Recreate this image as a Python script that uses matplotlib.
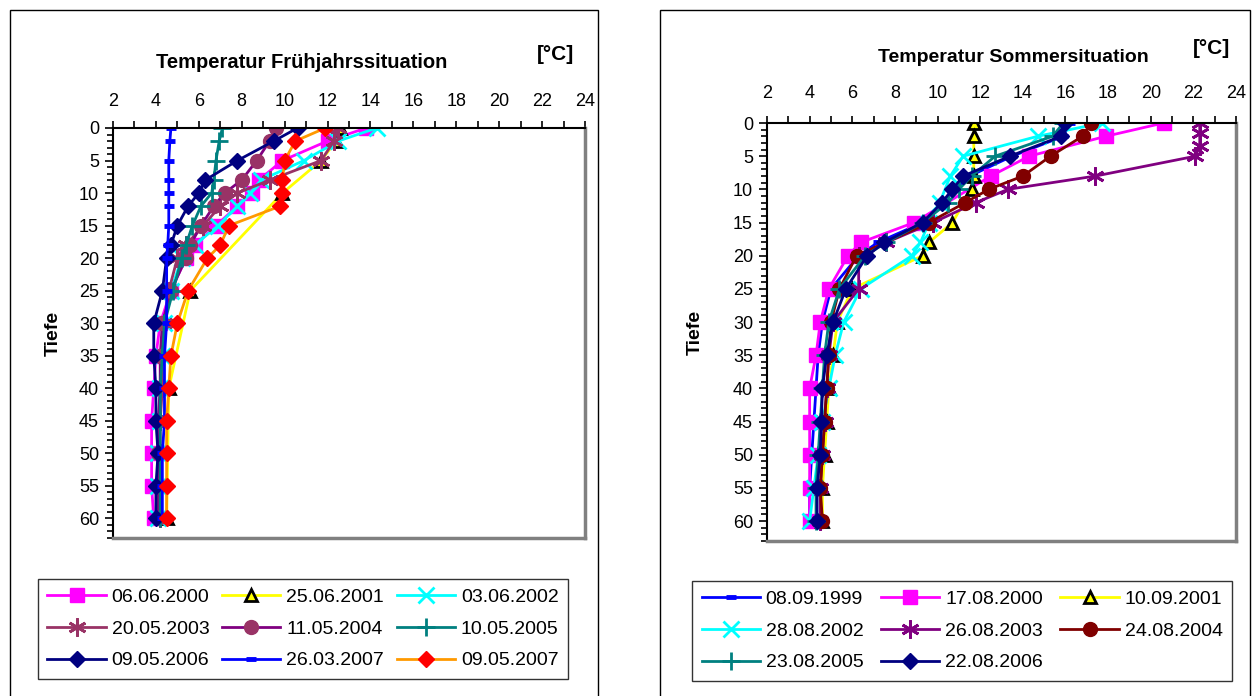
import matplotlib
matplotlib.use("Agg")
import matplotlib.pyplot as plt
import matplotlib.patches as patches
from matplotlib.ticker import MultipleLocator

plt.rcParams['font.family'] = ['Liberation Sans', 'DejaVu Sans']

# standard measuring depths [m]
depths = [0, 2, 5, 8, 10, 12, 15, 18, 20, 25, 30, 35, 40, 45, 50, 55, 60]

# ---- Frühjahr (spring) profiles, temperature in °C ----
sp_06062000 = [13.8, 12.0, 9.9, 8.8, 8.5, 7.8, 6.8, 5.8, 5.4, 4.7, 4.2, 4.0, 3.9, 3.8, 3.8, 3.8, 3.9]
sp_25062001_depth = [0, 2, 5, 10, 25, 40, 60]
sp_25062001 = [12.6, 12.4, 11.7, 9.9, 5.6, 4.6, 4.5]
sp_03062002 = [14.3, 12.5, 10.9, 8.9, 8.4, 7.8, 6.9, 5.8, 5.2, 4.7, 4.4, 4.3, 4.2, 4.2, 4.1, 4.1, 4.1]
sp_20052003 = [12.5, 12.3, 11.7, 9.3, 7.8, 7.0, 6.2, 5.4, 5.0, 4.6, 4.4, 4.3, 4.3, 4.2, 4.2, 4.2, 4.2]
sp_11052004 = [9.6, 9.3, 8.7, 8.0, 7.2, 6.7, 6.1, 5.6, 5.4, 4.7, 4.3, 4.2, 4.2, 4.1, 4.1, 4.1, 4.1]
sp_10052005 = [7.1, 6.95, 6.8, 6.7, 6.6, 6.1, 5.7, 5.4, 5.2, 4.8, 4.4, 4.3, 4.2, 4.2, 4.2, 4.2, 4.2]
sp_09052006 = [10.6, 9.5, 7.8, 6.3, 6.0, 5.5, 5.0, 4.7, 4.5, 4.3, 3.9, 3.9, 4.0, 4.0, 4.1, 4.0, 4.0]
sp_26032007 = [4.7, 4.65, 4.6, 4.6, 4.6, 4.6, 4.6, 4.55, 4.5, 4.5, 4.5, 4.4, 4.4, 4.4, 4.3, 4.3, 4.3]
sp_09052007 = [11.9, 10.5, 10.0, 9.9, 9.9, 9.8, 7.4, 7.0, 6.4, 5.5, 5.0, 4.7, 4.6, 4.5, 4.5, 4.5, 4.5]

# ---- Sommer (summer) profiles ----
su_08091999 = [16.2, 15.9, 13.5, 11.5, 10.8, 10.3, 9.3, 7.2, 6.3, 5.0, 4.6, 4.4, 4.3, 4.2, 4.1, 4.0, 4.0]
su_17082000_depth = [0, 2, 5, 8, 15, 18, 20, 25, 30, 35, 40, 45, 50, 55, 60]
su_17082000 = [20.6, 17.9, 14.3, 12.5, 8.9, 6.4, 5.8, 4.9, 4.5, 4.3, 4.0, 4.0, 4.0, 4.0, 4.0]
su_10092001_depth = [0, 2, 5, 8, 10, 15, 18, 20, 25, 30, 35, 40, 45, 50, 55, 60]
su_10092001 = [11.7, 11.7, 11.7, 11.7, 11.6, 10.7, 9.6, 9.3, 6.0, 5.3, 5.1, 4.9, 4.8, 4.7, 4.6, 4.6]
su_28082002_depth = [0, 2, 5, 8, 12, 15, 18, 20, 25, 30, 35, 40, 45, 50, 55, 60]
su_28082002 = [17.7, 14.7, 11.2, 10.6, 10.1, 9.6, 9.2, 8.8, 6.4, 5.6, 5.2, 4.9, 4.6, 4.4, 4.2, 4.0]
su_26082003_depth = [0, 1.5, 3.5, 5, 8, 10, 12, 15, 18, 20, 25, 30, 35, 40, 45, 50, 55, 60]
su_26082003 = [22.3, 22.3, 22.3, 22.1, 17.4, 13.3, 11.8, 9.8, 7.6, 6.3, 6.3, 5.1, 4.9, 4.8, 4.7, 4.6, 4.5, 4.5]
su_24082004_depth = [0, 2, 5, 8, 10, 12, 15, 20, 25, 30, 35, 40, 45, 50, 55, 60]
su_24082004 = [17.2, 16.8, 15.3, 14.0, 12.4, 11.3, 9.6, 6.2, 5.4, 5.0, 4.9, 4.8, 4.7, 4.6, 4.5, 4.6]
su_23082005 = [15.9, 15.4, 12.7, 11.6, 11.0, 10.5, 9.3, 7.6, 6.6, 5.4, 4.9, 4.7, 4.6, 4.5, 4.4, 4.3, 4.3]
su_22082006 = [16.0, 15.8, 13.4, 11.2, 10.7, 10.2, 9.3, 7.5, 6.7, 5.7, 5.1, 4.8, 4.6, 4.55, 4.5, 4.35, 4.35]

# marker / line styles (Excel default palette)
st_square = dict(color='#FF00FF', marker='s', ms=10)
st_tri = dict(color='#FFFF00', marker='^', ms=9, mfc='#FFFF00', mec='black', mew=2)
st_x = dict(color='#00FFFF', marker='x', ms=11, mew=2)
st_star_rose = dict(color='#993366', marker=(6, 2, 0), ms=13, mew=2)
st_star_purple = dict(color='#800080', marker=(6, 2, 0), ms=13, mew=2)
st_circle_rose = dict(color='#800080', marker='o', ms=10, mfc='#993366', mec='#993366')
st_circle_maroon = dict(color='#800000', marker='o', ms=10)
st_plus = dict(color='#008080', marker='+', ms=13, mew=2)
st_diamond = dict(color='#000080', marker='D', ms=8.5)
st_dash = dict(color='#0000FF', marker='_', ms=7, mew=3.5)
st_diamond_red = dict(color='#FF9900', marker='D', ms=8.5, mfc='#FF0000', mec='#FF0000')

spring = [
    ('06.06.2000', depths, sp_06062000, st_square),
    ('25.06.2001', sp_25062001_depth, sp_25062001, st_tri),
    ('03.06.2002', depths, sp_03062002, st_x),
    ('20.05.2003', depths, sp_20052003, st_star_rose),
    ('11.05.2004', depths, sp_11052004, st_circle_rose),
    ('10.05.2005', depths, sp_10052005, st_plus),
    ('09.05.2006', depths, sp_09052006, st_diamond),
    ('26.03.2007', depths, sp_26032007, st_dash),
    ('09.05.2007', depths, sp_09052007, st_diamond_red),
]

summer = [
    ('08.09.1999', depths, su_08091999, st_dash),
    ('17.08.2000', su_17082000_depth, su_17082000, st_square),
    ('10.09.2001', su_10092001_depth, su_10092001, st_tri),
    ('28.08.2002', su_28082002_depth, su_28082002, st_x),
    ('26.08.2003', su_26082003_depth, su_26082003, st_star_purple),
    ('24.08.2004', su_24082004_depth, su_24082004, st_circle_maroon),
    ('23.08.2005', depths, su_23082005, st_plus),
    ('22.08.2006', depths, su_22082006, st_diamond),
]

W, H = 1256, 696
fig = plt.figure(figsize=(W / 100, H / 100), dpi=100)


def px_axes(x0, y0, x1, y1):
    return fig.add_axes([x0 / W, 1 - y1 / H, (x1 - x0) / W, (y1 - y0) / H])


def draw_panel(ax, series, tick_pad, legend_center, colspace):
    handles = []
    for label, d, temps, st in series:
        h, = ax.plot(temps, d, lw=2, label=label, **st)
        handles.append(h)
    ax.set_xlim(2, 24)
    ax.set_ylim(63, 0)
    ax.xaxis.tick_top()
    ax.xaxis.set_major_locator(MultipleLocator(2))
    ax.xaxis.set_minor_locator(MultipleLocator(1))
    ax.yaxis.set_major_locator(MultipleLocator(5))
    ax.yaxis.set_minor_locator(MultipleLocator(1))
    ax.tick_params(axis='x', which='both', direction='out', labelsize=13, pad=tick_pad, width=1.2)
    ax.tick_params(axis='x', which='both', length=5)
    ax.tick_params(axis='y', which='both', direction='out', labelsize=13, pad=4, width=1.2)
    ax.tick_params(axis='y', which='major', length=6)
    ax.tick_params(axis='y', which='minor', length=4)
    for s in ('top', 'left'):
        ax.spines[s].set_color('black')
        ax.spines[s].set_linewidth(1.5)
    for s in ('bottom', 'right'):
        ax.spines[s].set_color('#808080')
        ax.spines[s].set_linewidth(2.5)
    ax.set_ylabel('Tiefe', fontsize=14, fontweight='bold')

    # legend filled row by row like Excel
    n = len(handles)
    order = [i for c in range(3) for i in range(c, n, 3)]
    leg = fig.legend([handles[i] for i in order], [series[i][0] for i in order],
                     ncol=3, loc='center',
                     bbox_to_anchor=(legend_center[0] / W, 1 - legend_center[1] / H),
                     fontsize=14, frameon=True, fancybox=False, edgecolor='black',
                     handlelength=3.0, handletextpad=0.3, columnspacing=colspace,
                     labelspacing=0.72, borderpad=0.5)
    leg.get_frame().set_linewidth(1.0)
    return ax


# panel frames
fig.patches.append(patches.Rectangle((10 / W, -0.1), 588 / W, 1.1 - 10 / H, transform=fig.transFigure,
                                     fill=False, edgecolor='black', lw=1.0))
fig.patches.append(patches.Rectangle((660 / W, -0.1), 590 / W, 1.1 - 10 / H, transform=fig.transFigure,
                                     fill=False, edgecolor='black', lw=1.0))

ax1 = px_axes(113, 128, 585, 538)
draw_panel(ax1, spring, 8, (303, 629), 0.65)
ax1.yaxis.set_label_coords(-0.108, 0.5)

ax2 = px_axes(767, 123, 1236, 541)
draw_panel(ax2, summer, 10, (962, 631), 0.9)
ax2.yaxis.set_label_coords(-0.134, 0.5)

fig.text(302 / W, 1 - 62 / H, 'Temperatur Frühjahrssituation', ha='center', va='center',
         fontsize=14.5, fontweight='bold')
fig.text(556 / W, 1 - 55 / H, '[°C]', ha='center', va='center', fontsize=15, fontweight='bold')
fig.text(1013 / W, 1 - 57 / H, 'Temperatur Sommersituation', ha='center', va='center',
         fontsize=14, fontweight='bold')
fig.text(1212 / W, 1 - 48 / H, '[°C]', ha='center', va='center', fontsize=15, fontweight='bold')

fig.savefig('out.png', dpi=100)
